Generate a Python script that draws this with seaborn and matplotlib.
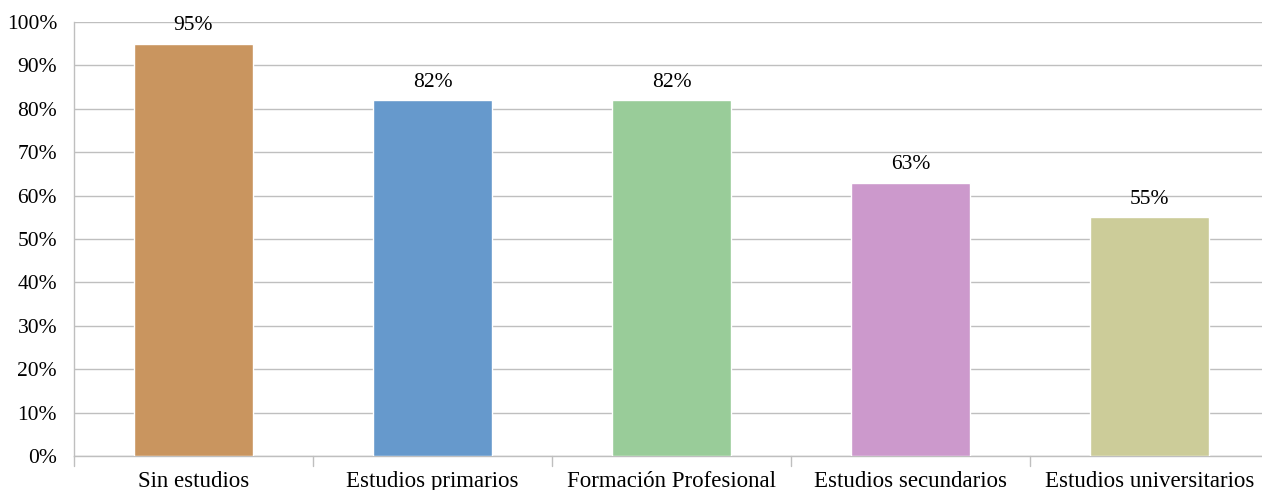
import pandas as pd
import matplotlib
matplotlib.use("Agg")
import matplotlib.pyplot as plt
import seaborn as sns

# Data
categories = ["Sin estudios", "Estudios primarios", "Formación Profesional",
              "Estudios secundarios", "Estudios universitarios"]
values = [95, 82, 82, 63, 55]
colors = ["#C9955F", "#6699CC", "#99CC99", "#CC99CC", "#CCCC99"]

df = pd.DataFrame({"categoria": categories, "valor": values})

sns.set_style("white")
plt.rcParams["font.family"] = ["Liberation Serif", "DejaVu Serif"]
plt.rcParams["text.color"] = "black"
plt.rcParams["xtick.labelcolor"] = "black"
plt.rcParams["ytick.labelcolor"] = "black"

fig = plt.figure(figsize=(12.62, 4.9), dpi=100)
ax = fig.add_axes([74 / 1262, 34 / 490, 1195 / 1262, 434 / 490])

sns.barplot(data=df, x="categoria", y="valor", hue="categoria",
            palette=colors, legend=False, width=0.5, saturation=1, ax=ax, zorder=3)

ax.set_ylim(0, 100)
ax.set_xlim(-0.5, len(categories) - 0.5)
ax.set_yticks(range(0, 101, 10))
ax.set_yticklabels([f"{v}%" for v in range(0, 101, 10)], fontsize=15.5)
ax.set_xlabel("")
ax.set_ylabel("")
ax.tick_params(axis="x", labelsize=16.5, length=0, pad=11)
ax.tick_params(axis="y", length=8.6, color="#BFBFBF", width=1, pad=3.6)
ax.yaxis.grid(True, color="#BFBFBF", linewidth=1, zorder=0)
ax.set_axisbelow(True)

for s in ["top", "right"]:
    ax.spines[s].set_visible(False)
for s in ["left", "bottom"]:
    ax.spines[s].set_color("#BFBFBF")
    ax.spines[s].set_linewidth(1)

# category separator ticks under the x axis
for b in range(len(categories) + 1):
    ax.plot([b - 0.5, b - 0.5], [0, -2.2], color="#BFBFBF", linewidth=1,
            clip_on=False, zorder=1)

for i, v in enumerate(values):
    ax.annotate(f"{v}%", (i, v), xytext=(0, 6), textcoords="offset points",
                ha="center", va="bottom", fontsize=15.5)

fig.savefig("out.png", dpi=100)
